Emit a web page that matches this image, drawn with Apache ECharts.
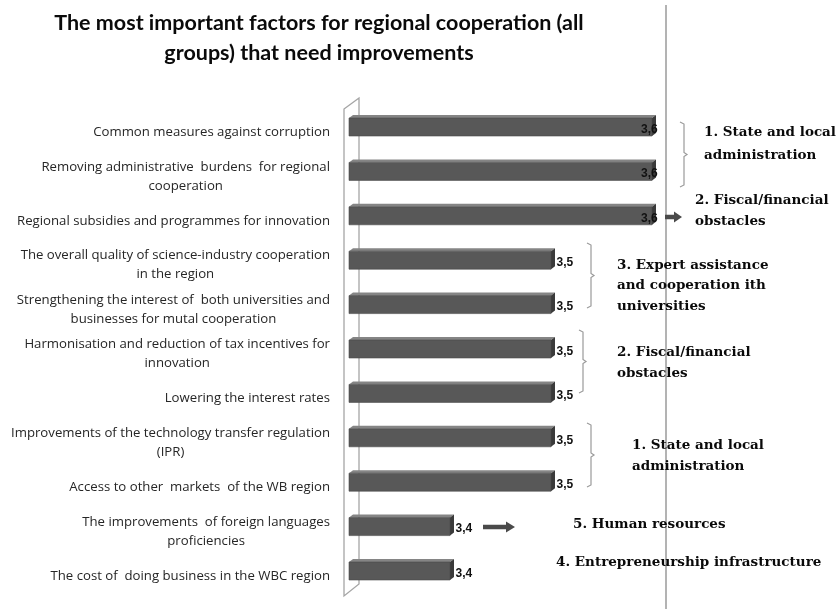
<!DOCTYPE html>
<html><head><meta charset="utf-8">
<script src="https://cdn.jsdelivr.net/npm/echarts@6/dist/echarts.min.js"></script>
<style>html,body{margin:0;padding:0;background:#fff}#c{width:836px;height:609px}</style>
</head><body><div id="c"></div>
<script>
const categories = [
  'Common measures against corruption',
  'Removing administrative  burdens  for regional\ncooperation',
  'Regional subsidies and programmes for innovation',
  'The overall quality of science-industry cooperation\nin the region',
  'Strengthening the interest of  both universities and\nbusinesses for mutal cooperation',
  'Harmonisation and reduction of tax incentives for\ninnovation',
  'Lowering the interest rates',
  'Improvements of the technology transfer regulation\n(IPR)',
  'Access to other  markets  of the WB region',
  'The improvements  of foreign languages\nproficiencies',
  'The cost of  doing business in the WBC region'
];
const values = [3.6, 3.6, 3.6, 3.5, 3.5, 3.5, 3.5, 3.5, 3.5, 3.4, 3.4];
const titleLines = ['The most important factors for regional cooperation (all', 'groups) that need improvements'];
const noteTexts = [
  ['1. State and local', 'administration'],
  ['2. Fiscal/financial', 'obstacles'],
  ['3. Expert assistance', 'and cooperation ith', 'universities'],
  ['2. Fiscal/financial', 'obstacles'],
  ['1. State and local', 'administration'],
  ['5. Human resources'],
  ['4. Entrepreneurship infrastructure']
];
const axisMin = 3.3, axisMax = 3.7, plotLimit = 3.61;

const fmt = v => v.toFixed(1).replace('.', ',');

function renderBar(params, api) {
  const v = api.value(0), c = api.value(1);
  const base = api.coord([axisMin, c]);
  const tip = api.coord([v, c]);
  const H = 18, D = 4, T = 3, SHIFT = -5;
  const yc = tip[1] + SHIFT;
  const yT = yc - H / 2, yB = yc + H / 2;
  const x0 = base[0], x1 = tip[0];
  const limit = api.coord([plotLimit, c])[0] - 21;
  const lx = Math.min(x1 + D + 1.5, limit);
  return {
    type: 'group', children: [
      { type: 'polygon', shape: { points: [[x0, yT], [x1, yT], [x1 + D, yT - T], [x0 + D, yT - T]] }, style: { fill: '#858585' } },
      { type: 'polygon', shape: { points: [[x1, yT], [x1 + D, yT - T], [x1 + D, yB - T], [x1, yB]] }, style: { fill: '#3a3a3a' } },
      { type: 'rect', shape: { x: x0, y: yT, width: x1 - x0, height: H }, style: { fill: '#585858', stroke: '#4a4a4a', lineWidth: 0.6 } },
      { type: 'text', x: lx, y: yc + 2.5, style: { text: fmt(v), align: 'left', verticalAlign: 'middle', font: 'bold 12px "Liberation Sans", Arial, sans-serif', fill: '#111' } }
    ]
  };
}

const chart = echarts.init(document.getElementById('c'));
const gridLeft = 349, gridWidth = 404;

const graphics = [];
// title
titleLines.forEach((t, i) => graphics.push({
  type: 'text', x: 319, y: 23 + i * 30, z: 10,
  style: { text: t, align: 'center', verticalAlign: 'middle', font: 'bold 21.5px Lato, sans-serif', fill: '#0a0a0a' }
}));
// slide edge line
graphics.push({ type: 'line', shape: { x1: 666, y1: 5, x2: 666, y2: 609 }, style: { stroke: '#9a9a9a', lineWidth: 1.5 }, z: 0 });
// wall
graphics.push({ type: 'polygon', shape: { points: [[344, 109], [359, 98], [359, 584], [344, 596]] }, style: { fill: '#fff', stroke: '#a5a5a5', lineWidth: 1.3 }, z: 0 });
// brackets
function bracket(xh, xv, xn, yt, yb) {
  const ym = (yt + yb) / 2;
  return { type: 'polyline', z: 5, shape: { points: [[xh, yt], [xv, yt + 2], [xv, ym - 2], [xn, ym], [xv, ym + 2], [xv, yb - 2], [xh, yb]] }, style: { stroke: '#9a9a9a', lineWidth: 1.2, fill: null } };
}
graphics.push(bracket(680, 684, 687, 122, 187));
graphics.push(bracket(587, 591, 594, 243, 308));
graphics.push(bracket(579, 583, 586, 330, 393));
graphics.push(bracket(587, 591, 594, 423, 487));
// arrows
function arrow(x0, xh, x1, y) {
  return { type: 'polygon', z: 5, shape: { points: [[x0, y - 2.2], [xh, y - 2.2], [xh, y - 5.5], [x1, y], [xh, y + 5.5], [xh, y + 2.2], [x0, y + 2.2]] }, style: { fill: '#4a4a4a' } };
}
graphics.push(arrow(665, 674, 682, 217));
graphics.push(arrow(483, 506, 515, 527));
// notes
const notePos = [
  [704, 132, 23],
  [695, 200, 21],
  [617, 265, 20.5],
  [617, 352, 21],
  [632, 445, 21.5],
  [573, 524, 0],
  [556, 562, 0]
];
noteTexts.forEach((lines, k) => {
  const [x, y, lh] = notePos[k];
  lines.forEach((t, i) => graphics.push({
    type: 'text', x: x, y: y + i * lh, z: 10,
    style: { text: t, align: 'left', verticalAlign: 'middle', font: 'bold 13.5px "DejaVu Serif", serif', fill: '#0a0a0a' }
  }));
});

chart.setOption({
  animation: false,
  backgroundColor: '#fff',
  grid: { left: gridLeft, width: gridWidth, top: 109.8, bottom: 10.8, containLabel: false },
  xAxis: { type: 'value', min: axisMin, max: axisMax, show: false },
  yAxis: {
    type: 'category', data: categories, inverse: true,
    axisLine: { show: false }, axisTick: { show: false }, splitLine: { show: false },
    axisLabel: {
      margin: 19, align: 'right',
      formatter: v => v.split('\n').map(s => '{c|' + s + '}').join('\n'),
      rich: { c: { align: 'center', fontFamily: '"Open Sans", sans-serif', fontSize: 13.2, color: '#262626', lineHeight: 19 } }
    }
  },
  series: [{
    type: 'custom', renderItem: renderBar, z: 3,
    encode: { x: 0, y: 1 },
    data: values.map((v, i) => [v, i])
  }],
  graphic: graphics
});
</script></body></html>
